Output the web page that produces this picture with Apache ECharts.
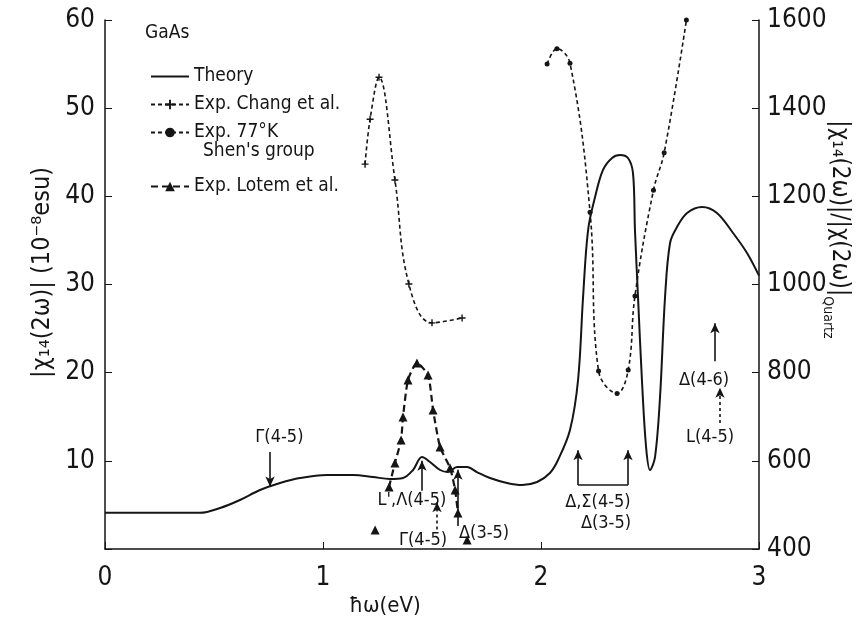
<!DOCTYPE html>
<html><head><meta charset="utf-8">
<script src="https://cdn.jsdelivr.net/npm/echarts@6/dist/echarts.min.js"></script>
<style>html,body{margin:0;padding:0;background:#fff}#c{width:861px;height:624px}</style>
</head><body><div id="c"></div>
<script>
// ---- data (x in eV) ----
const theoryX = [0, 0.2, 0.436, 0.528, 0.619, 0.711, 0.803, 0.894, 1.018, 1.138, 1.229, 1.307, 1.367, 1.413, 1.454, 1.491, 1.537, 1.573, 1.615, 1.661, 1.706, 1.766, 1.844, 1.913, 1.982, 2.041, 2.078, 2.133, 2.170, 2.193, 2.216, 2.248, 2.284, 2.326, 2.362, 2.399, 2.422, 2.431, 2.445, 2.463, 2.482, 2.500, 2.523, 2.546, 2.569, 2.592, 2.624, 2.670, 2.739, 2.807, 2.881, 2.945, 3.0];
const theoryY = [4.1, 4.1, 4.1, 4.65, 5.56, 6.69, 7.49, 8.05, 8.39, 8.39, 8.17, 7.94, 8.05, 8.96, 10.43, 9.87, 8.96, 8.73, 9.30, 9.30, 8.73, 8.05, 7.49, 7.26, 7.60, 8.62, 10.09, 13.5, 19.17, 28.58, 36.18, 39.92, 42.98, 44.35, 44.69, 44.35, 42.64, 36.18, 28.58, 19.17, 11.57, 8.96, 10.43, 17.24, 28.58, 34.71, 36.52, 38.11, 38.79, 38.11, 35.84, 33.57, 31.0];

const changX = [1.193, 1.216, 1.257, 1.330, 1.394, 1.500, 1.638];
const changY = [1273, 1375, 1470, 1237, 1001, 913, 924];

const shenX = [2.028, 2.073, 2.133, 2.225, 2.264, 2.349, 2.400, 2.431, 2.516, 2.565, 2.667];
const shenY = [1500, 1535, 1502, 1164, 804, 753, 806, 974, 1214, 1299, 1600];

const lotemX = [1.303, 1.330, 1.358, 1.367, 1.390, 1.431, 1.482, 1.505, 1.537, 1.583, 1.606, 1.619];
const lotemY = [7.03, 9.75, 12.36, 14.97, 19.17, 21.10, 19.73, 15.76, 11.57, 9.19, 6.69, 4.08];
const lotemLoneX = [1.239, 1.661];
const lotemLoneY = [2.15, 1.02];

const xTicks = [0, 1, 2, 3];
const leftTicks = [10, 20, 30, 40, 50, 60];
const rightTicks = [400, 600, 800, 1000, 1200, 1400, 1600];

// annotation arrows: x1, y1, x2, y2 (left axis units), style, head
const arrowX1 = [0.757, 1.454, 1.523, 1.619, 2.170, 2.399, 2.170, 2.798, 2.821];
const arrowY1 = [11.0, 6.6, 2.2, 2.6, 7.26, 7.26, 7.26, 21.3, 14.3];
const arrowX2 = [0.757, 1.454, 1.523, 1.619, 2.170, 2.399, 2.399, 2.798, 2.821];
const arrowY2 = [7.1, 10.0, 5.3, 9.0, 11.2, 11.2, 7.26, 25.6, 18.3];
const arrowDash = [false, false, true, false, false, false, false, false, true];
const arrowHead = [true, true, true, true, true, true, false, true, true];

const noteText = ['Γ(4-5)', "L',Λ(4-5)", 'Γ(4-5)', 'Δ(3-5)', 'Δ,Σ(4-5)', 'Δ(3-5)', 'Δ(4-6)', 'L(4-5)'];
const noteX = [0.80, 1.408, 1.459, 1.739, 2.261, 2.298, 2.748, 2.775];
const noteY = [12.7, 5.56, 1.0, 1.8, 5.33, 2.95, 19.17, 12.7];

// ---- build ----
const FONT = "'Liberation Sans Narrow','DejaVu Sans Condensed','Liberation Sans',sans-serif";
const zip = (a, b) => a.map((v, i) => [v, b[i]]);
const INK = '#151515';

const markLineData = arrowX1.map((x, i) => [
  { coord: [x, arrowY1[i]], symbol: 'none', lineStyle: { type: arrowDash[i] ? [3, 3] : 'solid', width: 1.6, color: INK } },
  { coord: [arrowX2[i], arrowY2[i]], symbol: arrowHead[i] ? 'arrow' : 'none', symbolSize: arrowHead[i] ? [7, 10] : 0 }
]);
const markPointData = noteText.map((t, i) => ({
  coord: [noteX[i], noteY[i]], value: t,
  label: { formatter: t }
}));

const chart = echarts.init(document.getElementById('c'), null, { renderer: 'canvas' });
chart.setOption({
  animation: false,
  backgroundColor: '#fff',
  textStyle: { fontFamily: FONT, color: INK },
  grid: { left: 105, right: 102, top: 20, bottom: 75, containLabel: false, outerBoundsMode: 'none' },
  xAxis: {
    type: 'value', min: 0, max: 3, interval: 1,
    axisLine: { lineStyle: { color: INK, width: 1.5 } },
    axisTick: { inside: true, length: 7, lineStyle: { color: INK } },
    splitLine: { show: false },
    axisLabel: { fontSize: 26, margin: 16, color: INK, fontFamily: FONT,
      formatter: v => xTicks.includes(v) ? String(v) : '' },
    name: 'ħω(eV)', nameLocation: 'middle', nameGap: 46, nameMoveOverlap: false,
    nameTextStyle: { fontSize: 22, color: INK, fontFamily: FONT, padding: [0, 94, 0, 0] }
  },
  yAxis: [{
    type: 'value', min: 0, max: 60, interval: 10, position: 'left',
    axisLine: { show: true, lineStyle: { color: INK, width: 1.5 } },
    axisTick: { show: true, inside: true, length: 7, lineStyle: { color: INK } },
    splitLine: { show: false },
    axisLabel: { fontSize: 26, margin: 10, color: INK, fontFamily: FONT,
      formatter: v => leftTicks.includes(v) ? String(v) : '' },
    name: '|χ₁₄(2ω)| (10⁻⁸esu)', nameLocation: 'middle', nameGap: 50, nameMoveOverlap: false,
    nameTextStyle: { fontSize: 25, color: INK, fontFamily: FONT, padding: [0, 0, 0, 24] }
  }, {
    type: 'value', min: 400, max: 1600, interval: 200, position: 'right',
    axisLine: { show: true, lineStyle: { color: INK, width: 1.5 } },
    axisTick: { show: true, inside: true, length: 7, lineStyle: { color: INK } },
    splitLine: { show: false },
    axisLabel: { fontSize: 26, margin: 8, color: INK, fontFamily: FONT,
      formatter: v => rightTicks.includes(v) ? String(v) : '' },
    name: '{a||χ₁₄(2ω)|/|χ(2ω)|}{s|Quartz}', nameLocation: 'middle', nameGap: 62, nameRotate: -90,
    nameMoveOverlap: false,
    nameTextStyle: { color: INK, fontFamily: FONT, padding: [0, 110, 0, 0],
      rich: { a: { fontSize: 24, lineHeight: 36, fontFamily: FONT, color: INK },
              s: { fontSize: 14, lineHeight: 14, verticalAlign: 'bottom', fontFamily: FONT, color: INK } } }
  }],
  legend: [{
    orient: 'vertical', left: 145, top: 62, itemGap: 9, itemWidth: 38, itemHeight: 12,
    data: [{ name: 'Theory', itemStyle: { opacity: 0 } }, 'Exp. Chang et al.', 'Exp. 77°K'],
    textStyle: { fontSize: 19, color: INK, fontFamily: FONT }, selectedMode: false
  }, {
    orient: 'vertical', left: 145, top: 172, itemWidth: 38, itemHeight: 12,
    data: ['Exp. Lotem et al.'],
    textStyle: { fontSize: 19, color: INK, fontFamily: FONT }, selectedMode: false
  }],
  graphic: [
    { type: 'text', left: 145, top: 24, style: { text: 'GaAs', fontSize: 19, fontFamily: FONT, fill: INK } },
    { type: 'text', left: 203, top: 142, style: { text: "Shen's group", fontSize: 19, fontFamily: FONT, fill: INK } }
  ],
  series: [{
    name: 'Theory', type: 'line', yAxisIndex: 0, data: zip(theoryX, theoryY),
    smooth: 0.35, symbol: 'none', itemStyle: { color: INK }, lineStyle: { color: INK, width: 2 }, z: 5,
    markLine: { silent: true, symbol: ['none', 'arrow'], label: { show: false }, data: markLineData,
      lineStyle: { color: INK, width: 1.6 } },
    markPoint: { silent: true, symbol: 'circle', symbolSize: 1, itemStyle: { color: 'rgba(0,0,0,0)' },
      label: { show: true, position: 'inside', fontSize: 18, color: INK, fontFamily: FONT },
      data: markPointData }
  }, {
    name: 'Exp. Chang et al.', type: 'line', yAxisIndex: 1, data: zip(changX, changY),
    smooth: 0.4, symbol: 'path://M4,0H6V4H10V6H6V10H4V6H0V4H4Z', symbolSize: 7,
    itemStyle: { color: INK }, lineStyle: { color: INK, width: 1.6, type: [4, 3] }
  }, {
    name: 'Exp. 77°K', type: 'line', yAxisIndex: 1, data: zip(shenX, shenY),
    smooth: 0.4, symbol: 'circle', symbolSize: 5,
    itemStyle: { color: INK }, lineStyle: { color: INK, width: 1.6, type: [4, 3] }
  }, {
    name: 'Exp. Lotem et al.', type: 'line', yAxisIndex: 0, data: zip(lotemX, lotemY),
    smooth: 0.2, symbol: 'triangle', symbolSize: 9,
    itemStyle: { color: INK }, lineStyle: { color: INK, width: 2.2, type: [7, 4] }
  }, {
    name: 'Exp. Lotem et al.', type: 'scatter', yAxisIndex: 0, data: zip(lotemLoneX, lotemLoneY),
    symbol: 'triangle', symbolSize: 9, itemStyle: { color: INK, opacity: 1 }
  }]
});
</script></body></html>
